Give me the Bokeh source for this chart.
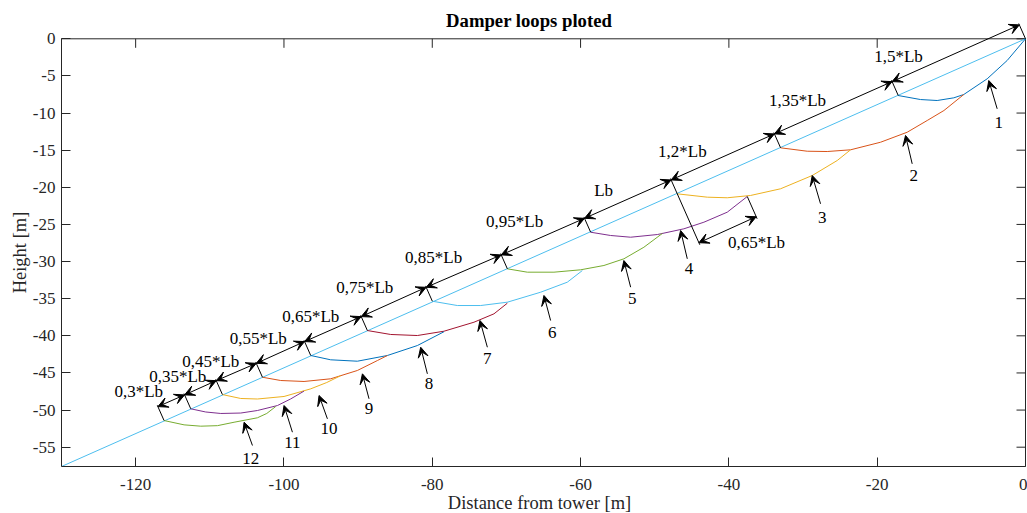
import numpy as np
from bokeh.plotting import figure
from bokeh.models import (Arrow, VeeHead, ColumnDataSource, FixedTicker, Range1d)
from bokeh.core.properties import value
from bokeh.embed import file_html
from bokeh.resources import INLINE

# ---------------- data ----------------
chord_x = [-130.0, 0.0]
chord_y = [-57.6, 0.0]

loop1_x = [-17.16, -14.16, -11.91, -9.67, -8.32, -5.17, -2.47, 0.0]
loop1_y = [-7.64, -8.18, -8.31, -7.95, -7.50, -5.39, -2.92, 0.0]
loop2_x = [-33.03, -29.43, -26.74, -23.59, -19.55, -15.95, -13.25, -11.0, -8.32]
loop2_y = [-14.68, -15.14, -15.18, -14.95, -13.93, -12.58, -11.00, -9.66, -7.50]
loop3_x = [-46.96, -42.91, -40.22, -37.08, -33.03, -28.76, -25.39, -23.59]
loop3_y = [-20.88, -21.33, -21.41, -21.10, -20.20, -18.41, -16.39, -14.95]
loop4_x = [-58.64, -55.95, -53.25, -49.65, -46.07, -43.37, -40.22, -37.52]
loop4_y = [-26.05, -26.49, -26.72, -26.36, -25.59, -24.70, -23.35, -21.24]
loop5_x = [-69.87, -67.18, -63.59, -59.99, -56.85, -54.16, -51.46, -48.98]
loop5_y = [-30.98, -31.43, -31.43, -31.11, -30.53, -29.63, -28.07, -26.22]
loop6_x = [-79.99, -76.62, -73.47, -69.87, -65.39, -61.79, -59.76]
loop6_y = [-35.34, -35.92, -35.92, -35.47, -34.13, -32.78, -31.21]
loop7_x = [-88.75, -85.61, -82.01, -78.42, -74.38, -71.68, -69.87]
loop7_y = [-39.29, -39.82, -39.96, -39.38, -38.17, -37.04, -35.60]
loop8_x = [-96.39, -93.70, -90.10, -86.05, -82.01, -78.42]
loop8_y = [-42.65, -43.23, -43.42, -42.65, -41.31, -39.45]
loop9_x = [-102.90, -100.44, -97.29, -93.70, -90.10, -87.40, -86.05]
loop9_y = [-45.58, -46.02, -46.15, -45.79, -44.67, -43.33, -42.65]
loop10_x = [-108.30, -105.83, -103.58, -99.99, -96.39, -94.23, -92.35]
loop10_y = [-47.91, -48.44, -48.51, -48.17, -47.14, -46.29, -45.37]
loop11_x = [-112.57, -110.55, -108.52, -105.83, -103.58, -100.88, -99.09, -97.30]
loop11_y = [-49.83, -50.26, -50.46, -50.40, -50.06, -49.39, -48.50, -47.45]
loop12_x = [-116.17, -113.47, -111.22, -108.97, -106.73, -103.58, -102.32, -101.11]
loop12_y = [-51.41, -51.99, -52.17, -52.10, -51.64, -51.04, -50.46, -49.52]

loops_x = [loop1_x, loop2_x, loop3_x, loop4_x, loop5_x, loop6_x,
           loop7_x, loop8_x, loop9_x, loop10_x, loop11_x, loop12_x]
loops_y = [loop1_y, loop2_y, loop3_y, loop4_y, loop5_y, loop6_y,
           loop7_y, loop8_y, loop9_y, loop10_y, loop11_y, loop12_y]

loop_names = ["1", "2", "3", "4", "5", "6", "7", "8", "9", "10", "11", "12"]
name_x = [-3.60, -15.06, -27.41, -45.39, -53.02, -63.81, -72.57, -80.44, -88.53, -93.92, -98.86, -104.48]
name_y = [-11.23, -18.41, -24.03, -30.98, -35.02, -39.51, -43.10, -46.46, -49.83, -52.53, -54.33, -56.52]
ptr_tail_x = [-3.82, -15.28, -27.64, -45.61, -53.25, -64.04, -72.57, -80.66, -88.53, -94.14, -98.86, -104.25]
ptr_tail_y = [-9.43, -16.84, -22.22, -29.63, -33.45, -37.94, -41.54, -45.12, -48.48, -51.18, -52.98, -54.77]
ptr_tip_x = [-4.95, -16.18, -28.76, -46.51, -54.16, -64.94, -73.57, -81.56, -89.42, -95.27, -99.99, -105.38]
ptr_tip_y = [-5.62, -13.02, -18.41, -25.82, -29.86, -34.57, -37.94, -41.54, -45.12, -48.04, -49.39, -51.64]

dim_text = ["1,5*Lb", "1,35*Lb", "1,2*Lb", "Lb", "0,95*Lb", "0,85*Lb",
            "0,75*Lb", "0,65*Lb", "0,55*Lb", "0,45*Lb", "0,35*Lb", "0,3*Lb"]
dim_lx = [-17.12, -30.74, -46.28, -56.89, -68.89, -79.81, -89.11, -96.39, -103.47, -109.87, -114.32, -119.58]
dim_ly = [-2.45, -8.31, -15.18, -20.43, -24.61, -29.52, -33.56, -37.40, -40.36, -43.46, -45.48, -47.50]

overlap_text = "0,65*Lb"
overlap_lx, overlap_ly = -36.27, -27.37

title_text = "Damper loops ploted"
title_x, title_y = -66.94, 2.40
xlabel_text = "Distance from tower [m]"
xlabel_x, xlabel_y = -65.54, -62.52
ylabel_text = "Height [m]"
ylabel_x, ylabel_y = -135.6, -28.78

x_ticks = [-120, -100, -80, -60, -40, -20, 0]
x_tick_labels = ["-120", "-100", "-80", "-60", "-40", "-20", "0"]
y_ticks = [0, -5, -10, -15, -20, -25, -30, -35, -40, -45, -50, -55]
y_tick_labels = ["0", "-5", "-10", "-15", "-20", "-25", "-30", "-35", "-40", "-45", "-50", "-55"]

colors = ["#0072BD", "#D95319", "#EDB120", "#7E2F8E", "#77AC30", "#4DBEEE", "#A2142F"]
FONT = "Liberation Serif"
AX = "#262626"

# ---------------- figure ----------------
W, H = 1027, 513
BOX_L, BOX_R, BOX_T, BOX_B = 61.0, 1025.0, 38.3, 466.0   # axes box in page pixels
X0, X1 = -130, 0
Y0, Y1 = -57.6, 0
SX = (BOX_R - BOX_L) / (X1 - X0)
SY = (BOX_B - BOX_T) / (Y1 - Y0)
x_range = Range1d(X0 - BOX_L / SX, X1 + (W - BOX_R) / SX)
y_range = Range1d(Y0 - (H - BOX_B) / SY, Y1 + BOX_T / SY)

p = figure(width=W, height=H, x_range=x_range, y_range=y_range,
           output_backend="svg", toolbar_location=None,
           min_border_left=0, min_border_right=0, min_border_top=0, min_border_bottom=0)
p.background_fill_color = "white"
p.border_fill_color = "white"
p.outline_line_color = None
p.grid.visible = False

def style(ax, ticks, labels, standoff):
    ax.ticker = FixedTicker(ticks=ticks)
    ax.major_tick_in = 9
    ax.major_tick_out = 0
    ax.minor_tick_line_color = None
    ax.axis_line_color = AX
    ax.major_tick_line_color = AX
    ax.major_label_overrides = {t: l for t, l in zip(ticks, labels)}
    ax.major_label_text_font = FONT
    ax.major_label_text_font_size = "17px"
    ax.major_label_text_color = AX
    ax.major_label_standoff = standoff

xa, ya = p.xaxis[0], p.yaxis[0]
style(xa, x_ticks, x_tick_labels, 12)
style(ya, y_ticks, y_tick_labels, 6)
xa.fixed_location = Y0
ya.fixed_location = X0
xa.bounds = (X0, X1)
ya.bounds = (Y0, Y1)

# rest of the axes box: top edge and right edge with inward ticks
p.segment(x0=[X0, X1], y0=[Y1, Y0], x1=[X1, X1], y1=[Y1, Y1], line_color=AX, line_width=1)
p.ray(x=x_ticks, y=[Y1] * len(x_ticks), length=9, length_units="screen",
      angle=-np.pi / 2, line_color=AX, line_width=1)
p.ray(x=[X1] * len(y_ticks), y=y_ticks, length=9, length_units="screen",
      angle=np.pi, line_color=AX, line_width=1)

# chord
p.line(chord_x, chord_y, line_color="#4DBEEE", line_width=1)

# loops
for i, (lx, ly) in enumerate(zip(loops_x, loops_y)):
    p.line(lx, ly, line_color=colors[i % 7], line_width=1)

# geometry helpers for dimensioning
ux = chord_x[1] - chord_x[0]
uy = chord_y[1] - chord_y[0]
L = np.hypot(ux, uy)
ux, uy = ux / L, uy / L
nx, ny = -uy, ux   # normal (up-left)

DIM_UP, EXT_UP = 2.05, 2.25
pts_x = [chord_x[1]] + [lx[0] for lx in loops_x]
pts_y = [chord_y[1]] + [ly[0] for ly in loops_y]
qx = [x + DIM_UP * nx for x in pts_x]
qy = [y + DIM_UP * ny for y in pts_y]

def head():
    return VeeHead(size=10, line_color="black", fill_color="black", line_width=1)

# double arrows along upper dimension line
dsrc = ColumnDataSource(dict(x0=qx[:-1], y0=qy[:-1], x1=qx[1:], y1=qy[1:]))
p.add_layout(Arrow(start=head(), end=head(), x_start="x0", y_start="y0",
                   x_end="x1", y_end="y1", source=dsrc, line_color="black", line_width=1))

# extension lines
LOW_ARROW, LOW_EXT = 7.2, 7.5
ex0 = [x + EXT_UP * nx for x in pts_x]
ey0 = [y + EXT_UP * ny for y in pts_y]
ex1 = list(pts_x)
ey1 = list(pts_y)
kA = 3  # the "Lb" boundary (start of loop 3)
Ax, Ay = pts_x[kA], pts_y[kA]
ex1[kA] = Ax - LOW_EXT * nx
ey1[kA] = Ay - LOW_EXT * ny
Ex, Ey = loop4_x[-1], loop4_y[-1]       # end of loop 4
dE = (Ex - chord_x[1]) * nx + (Ey - chord_y[1]) * ny
ex0.append(Ex); ey0.append(Ey)
ex1.append(Ex + (-LOW_EXT - dE) * nx); ey1.append(Ey + (-LOW_EXT - dE) * ny)
esrc = ColumnDataSource(dict(x0=ex0, y0=ey0, x1=ex1, y1=ey1))
p.add_layout(Arrow(start=None, end=None, x_start="x0", y_start="y0",
                   x_end="x1", y_end="y1", source=esrc, line_color="black", line_width=1))

# lower (overlap) dimension arrow
osrc = ColumnDataSource(dict(
    x0=[Ax - LOW_ARROW * nx], y0=[Ay - LOW_ARROW * ny],
    x1=[Ex + (-LOW_ARROW - dE) * nx], y1=[Ey + (-LOW_ARROW - dE) * ny]))
p.add_layout(Arrow(start=head(), end=head(), x_start="x0", y_start="y0",
                   x_end="x1", y_end="y1", source=osrc, line_color="black", line_width=1))

# pointer arrows to loops
psrc = ColumnDataSource(dict(x0=ptr_tail_x, y0=ptr_tail_y, x1=ptr_tip_x, y1=ptr_tip_y))
p.add_layout(Arrow(start=None, end=head(), x_start="x0", y_start="y0",
                   x_end="x1", y_end="y1", source=psrc, line_color="black", line_width=1))

# texts
tsrc = ColumnDataSource(dict(x=dim_lx + [overlap_lx] + name_x,
                             y=dim_ly + [overlap_ly] + name_y,
                             t=dim_text + [overlap_text] + loop_names))
p.text(x="x", y="y", text="t", source=tsrc, text_font=value(FONT),
       text_font_size="17px", text_color="black", text_align="center",
       text_baseline="middle")

# title and axis labels
p.text(x=[title_x], y=[title_y], text=[title_text], text_font=value(FONT),
       text_font_size="18.7px", text_font_style="bold", text_color="black",
       text_align="center", text_baseline="middle")
p.text(x=[xlabel_x], y=[xlabel_y], text=[xlabel_text], text_font=value(FONT),
       text_font_size="18.5px", text_color=AX, text_align="center", text_baseline="middle")
p.text(x=[ylabel_x], y=[ylabel_y], text=[ylabel_text], text_font=value(FONT),
       text_font_size="18.5px", text_color=AX, text_align="center", text_baseline="middle",
       angle=np.pi / 2)

open("out.html", "w").write(file_html(p, INLINE))
